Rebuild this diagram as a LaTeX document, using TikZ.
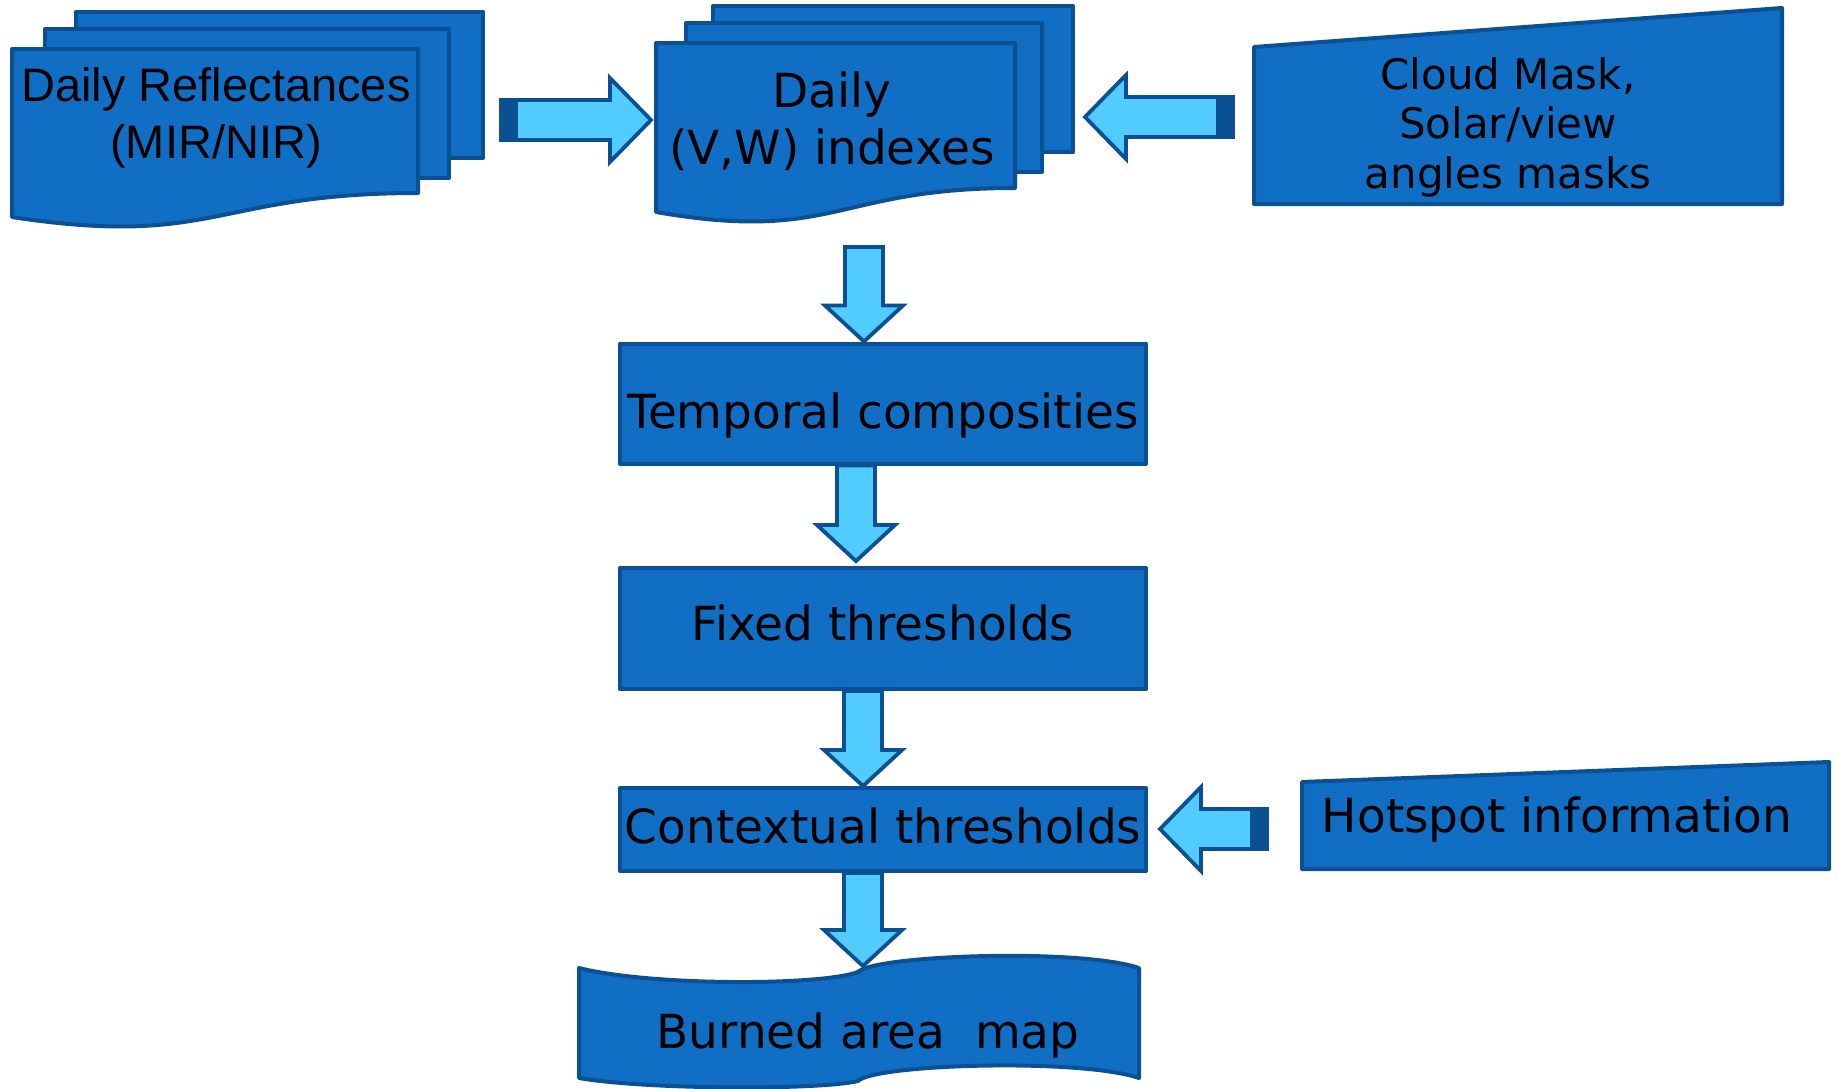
\documentclass[tikz,border=0pt]{standalone}
\usepackage{fontspec}
\setmainfont{DejaVu Sans}
\newfontfamily\arialfont{Liberation Sans}
\usetikzlibrary{calc}
\definecolor{boxblue}{RGB}{16,111,197}
\definecolor{edgeblue}{RGB}{11,80,146}
\definecolor{arrcyan}{RGB}{82,204,255}
\tikzset{
  sheet/.style={draw=edgeblue, fill=boxblue, line width=2pt, line join=round},
  procbox/.style={sheet, minimum width=263pt, inner sep=0pt, text depth=0pt,
                  font=\fontsize{23.5}{29.5}\selectfont},
  lbl/.style={inner sep=0pt, align=center, font=\fontsize{23.5}{29.5}\selectfont},
  fatarr/.style={draw=edgeblue, fill=arrcyan, line width=1.9pt, line join=miter},
  arrtail/.style={fatarr, fill=edgeblue},
}
\newcommand{\vblk}[2]{%
  \draw[fatarr] ($(#1)+(-19,0)$) -- ($(#2)+(-19,-36)$) -- ($(#2)+(-39,-36)$) -- (#2)
    -- ($(#2)+(39,-36)$) -- ($(#2)+(19,-36)$) -- ($(#1)+(19,0)$) -- cycle;}
\newcommand{\hblk}[3]{%
  \draw[fatarr] ($(#1)+(0,-20)$) -- ($(#2)+({-41*#3},-20)$) -- ($(#2)+({-41*#3},-42)$) -- (#2)
    -- ($(#2)+({-41*#3},42)$) -- ($(#2)+({-41*#3},20)$) -- ($(#1)+(0,20)$) -- cycle;
  \draw[arrtail] ($(#1)+(0,-20)$) rectangle ($(#1)+({15*#3},20)$);}
\begin{document}
\begin{tikzpicture}[x=0.5pt,y=-0.5pt]
    \fill[white] (0,0) rectangle (1838,1088);
    \useasboundingbox (0,0) rectangle (1838,1088);
    % input stacks
    \draw[sheet] (76,12) rectangle (483,158);
    \draw[sheet] (45,29) rectangle (449,178);
    \draw[sheet] (12,49) -- (418,49) -- (418,193) .. controls (215,193) and (215,248) .. (12,217) -- cycle;
    \node[lbl, font={\arialfont\fontsize{23.5}{28.5}\selectfont}] (refl) at (216,118) {Daily Reflectances\\(MIR/NIR)};
    \draw[sheet] (713,6) rectangle (1073,152);
    \draw[sheet] (686,23) rectangle (1042,172);
    \draw[sheet] (656,43) -- (1015,43) -- (1015,188) .. controls (835,188) and (835,243) .. (656,212) -- cycle;
    \node[lbl, font=\fontsize{23.5}{28.5}\selectfont] (idx) at (832,121) {Daily\\(V,W) indexes};
    \draw[sheet] (1254,47) -- (1782,8) -- (1782,204) -- (1254,204) -- cycle;
    \node[lbl, font=\fontsize{21}{24.75}\selectfont] (cloud) at (1508,127) {Cloud Mask,\\Solar/view\\angles masks};
    % processing chain
    \node[procbox, minimum height=60pt, text height=25pt] (temp) at (883,403.5) {Temporal composities};
    \node[procbox, minimum height=60.5pt, text height=11.5pt] (fix) at (883,628.5) {Fixed thresholds};
    \node[procbox, minimum height=41.5pt, text height=13.5pt] (ctx) at (883,829.5) {Contextual thresholds};
    \draw[sheet] (1302,782) -- (1829,762) -- (1829,869) -- (1302,869) -- cycle;
    \node[lbl] (hot) at (1557,820) {Hotspot information};
    \draw[sheet] (579,968) .. controls (650,986) and (820,986) .. (858,972)
      .. controls (875,955) and (1080,948) .. (1139,968) -- (1139,1078)
      .. controls (1080,1058) and (875,1064) .. (858,1081)
      .. controls (820,1090) and (650,1090) .. (579,1078) -- cycle;
    \node[lbl] (bam) at (868,1036) {Burned area\ \ map};
    % block arrows
    \coordinate (h1s) at (501,120); \coordinate (h1e) at (651,120);
    \coordinate (h2s) at (1233,117); \coordinate (h2e) at (1085,117);
    \coordinate (h3s) at (1267,829); \coordinate (h3e) at (1160,829);
    \hblk{h1s}{h1e}{1}
    \hblk{h2s}{h2e}{-1}
    \hblk{h3s}{h3e}{-1}
    \coordinate (v1s) at (864,247); \coordinate (v1e) at (v1s |- temp.north);
    \coordinate (v2s) at ($(temp.south)+(-27,0)$); \coordinate (v2e) at ($(v2s |- fix.north)+(0,-5)$);
    \coordinate (v3s) at ($(fix.south)+(-20,0)$); \coordinate (v3e) at (v3s |- ctx.north);
    \coordinate (v4s) at ($(ctx.south)+(-20,0)$); \coordinate (v4e) at (863,966);
    \vblk{v1s}{v1e}
    \vblk{v2s}{v2e}
    \vblk{v3s}{v3e}
    \vblk{v4s}{v4e}
\end{tikzpicture}
\end{document}
